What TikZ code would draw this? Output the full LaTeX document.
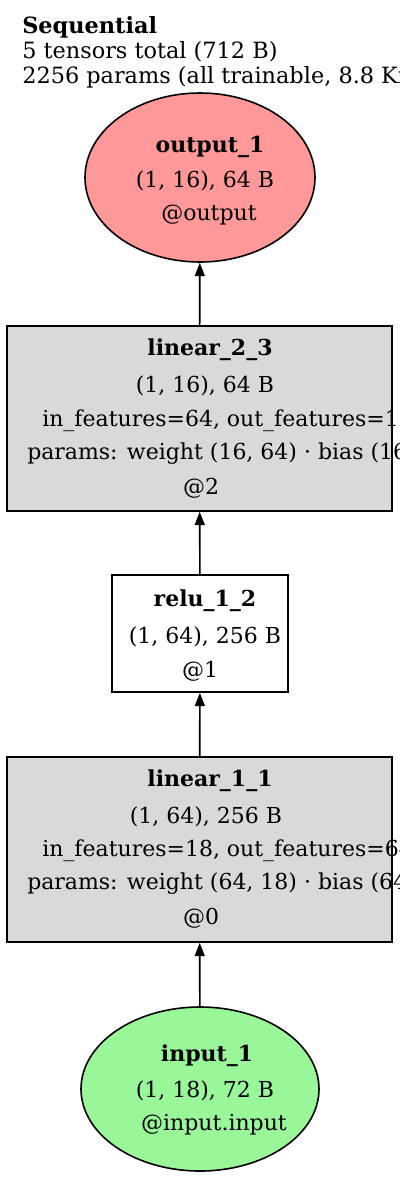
\documentclass[tikz,border=0pt]{standalone}
\usepackage{fontspec}
\setmainfont{DejaVu Serif}
\usetikzlibrary{arrows.meta,shapes.geometric}
\definecolor{outfill}{HTML}{FF9999}
\definecolor{infill}{HTML}{99F799}
\definecolor{boxfill}{HTML}{D9D9D9}
\begin{document}
\begin{tikzpicture}[x=0.75pt,y=-0.75pt,
  font=\fontsize{16.5}{19}\selectfont,
  lbl/.style={inner sep=0pt,anchor=base},
  lbll/.style={inner sep=0pt,anchor=base west},
  hd/.style={lbl,font=\fontsize{16.5}{19}\selectfont\bfseries},
  ttl/.style={lbll,font=\fontsize{16.8}{19}\selectfont},
  shapeline/.style={draw=black,line width=1.2pt,inner sep=0pt},
  ovalnode/.style={shapeline,ellipse},
  boxnode/.style={shapeline,rectangle},
  flow/.style={line width=1.2pt,-{Triangle[length=10pt,width=7.5pt]}}]
\useasboundingbox (0,0) rectangle (400,1179);
\clip (0,0) rectangle (400,1179);
% title
\node[ttl,font=\fontsize{16.8}{19}\selectfont\bfseries] (t1) at (22,33) {Sequential};
\node[ttl] (t2) at (22,58) {5 tensors total (712 B)};
\node[ttl] (t3) at (22,83) {2256 params (all trainable, 8.8 KiB)};
% shapes
\node[ovalnode,fill=outfill,minimum width=172.5pt,minimum height=126.75pt] (out) at (200,177.5) {};
\node[boxnode,fill=boxfill,minimum width=288.75pt,minimum height=138.75pt] (lin2) at (199.5,418.5) {};
\node[boxnode,fill=white,minimum width=132pt,minimum height=87.75pt] (relu) at (200,633.5) {};
\node[boxnode,fill=boxfill,minimum width=288.75pt,minimum height=138.75pt] (lin1) at (199.5,849.5) {};
\node[ovalnode,fill=infill,minimum width=178.5pt,minimum height=123pt] (inp) at (200,1089) {};
% connectors
\draw[flow] (inp) -- (lin1);
\draw[flow] (lin1) -- (relu);
\draw[flow] (relu) -- (lin2);
\draw[flow] (lin2) -- (out);
% output text
\node[hd] (o1) at (210,152) {output\_1};
\node[lbl] (o2) at (205,187) {(1, 16), 64 B};
\node[lbl] (o3) at (209,220) {@output};
% linear_2_3 text
\node[hd] (a1) at (210,355) {linear\_2\_3};
\node[lbl] (a2) at (205,392) {(1, 16), 64 B};
\node[lbll] (a3) at (42,426) {in\_features=64, out\_features=16};
\node[lbll] (a4) at (27,459) {params: weight (16, 64) · bias (16)};
\node[lbl] (a5) at (201,494) {@2};
% relu text
\node[hd] (r1) at (205,606) {relu\_1\_2};
\node[lbl] (r2) at (205,643) {(1, 64), 256 B};
\node[lbl] (r3) at (200,677) {@1};
% linear_1_1 text
\node[hd] (b1) at (210,786) {linear\_1\_1};
\node[lbl] (b2) at (206,823) {(1, 64), 256 B};
\node[lbll] (b3) at (42,856) {in\_features=18, out\_features=64};
\node[lbll] (b4) at (27,889) {params: weight (64, 18) · bias (64)};
\node[lbl] (b5) at (201,924) {@0};
% input text
\node[hd] (i1) at (207,1061) {input\_1};
\node[lbl] (i2) at (205,1097) {(1, 18), 72 B};
\node[lbl] (i3) at (214,1130) {@input.input};
\end{tikzpicture}
\end{document}
